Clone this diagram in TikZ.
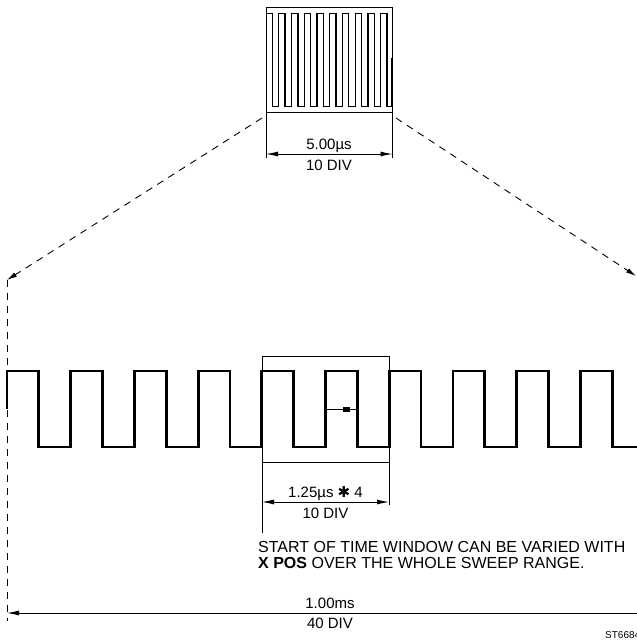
\documentclass[tikz,border=0pt]{standalone}
\usepackage{fontspec}
\setmainfont{Liberation Sans}
\newfontfamily\djv{DejaVu Sans}
\usetikzlibrary{arrows.meta}
\begin{document}
\begin{tikzpicture}[x=1pt,y=-1pt,
  lbl/.style={font=\fontsize{15}{17}\selectfont, inner sep=0pt, anchor=base},
  note/.style={font=\fontsize{16}{17}\selectfont, inner sep=0pt, anchor=base west},
  thinln/.style={line width=0.9pt},
  inwave/.style={line width=1.3pt, line join=miter},
  wave/.style={line width=2.8pt, line join=miter},
  dim/.style={line width=0.9pt, {Latex[length=12pt,width=5pt]}-{Latex[length=12pt,width=5pt]}},
  dsh/.style={line width=0.9pt, dash pattern=on 7pt off 6pt},
  dsharr/.style={dsh, -{Latex[length=10pt,width=5pt]}}
]
\useasboundingbox (0,0) rectangle (637,641);
\clip (0,0) rectangle (637,641);
% top box
\draw[thinln] (266,7.3) rectangle (392.5,112);
\draw[inwave] (266.8,58) -- (266.8,13.3) \foreach \k in {0,...,8} { -- ({272.37+12.74*\k},13.3) -- ({272.37+12.74*\k},106.7) -- ({278.74+12.74*\k},106.7) -- ({278.74+12.74*\k},13.3) } -- (387.0,13.3) -- (387.0,106.7) -- (391.7,106.7) -- (391.7,58);
\coordinate (tbl) at (266,112);
\coordinate (tbr) at (392.5,112);
\coordinate (tel) at (266,158);
\coordinate (ter) at (392.5,158);
\draw[thinln] (tbl) -- (tel);
\draw[thinln] (tbr) -- (ter);
\coordinate (tal) at (266,154);
\coordinate (tar) at (392.5,154);
\draw[dim] (tal) -- (tar);
\node[lbl] (t1) at (329,149) {5.00µs};
\node[lbl] (t2) at (329,170) {10 DIV};
% dashed projection lines
\coordinate (dl0) at (262,118);
\coordinate (dl1) at (7,280);
\coordinate (dr0) at (396,118);
\coordinate (dr1) at (636,276);
\coordinate (dlb) at (7,621);
\draw[dsharr] (dl0) -- (dl1);
\draw[dsharr] (dr0) -- (dr1);
\draw[dsh] (dl1) -- (dlb);
% main waveform
\draw[wave] (7,409) -- (7,371) \foreach \k in {0,...,9} { -- ({7+63.7*\k+31.85},371) -- ({7+63.7*\k+31.85},447) -- ({7+63.7*\k+63.7},447) -- ({7+63.7*\k+63.7},371) };
% window
\draw[thinln] (262,356) rectangle (389,462);
\coordinate (wbl) at (262,462);
\coordinate (wbr) at (389,462);
\coordinate (wel) at (262,533);
\coordinate (wer) at (389,505);
\draw[thinln] (wbl) -- (wel);
\draw[thinln] (wbr) -- (wer);
\coordinate (wal) at (262,502);
\coordinate (war) at (389,502);
\draw[dim] (wal) -- (war);
\node[lbl] (w1) at (325.5,497) {1.25µs {\djv ✱} 4};
\node[lbl] (w2) at (325.5,518) {10 DIV};
% marker
\coordinate (ml) at (325.5,409);
\coordinate (mr) at (357.4,409);
\draw[line width=0.8pt] (ml) -- (mr);
\fill (342.5,406.5) rectangle (349.5,411.5);
% note
\node[note] (n1) at (258,552) {START OF TIME WINDOW CAN BE VARIED WITH};
\node[note] (n2) at (258,568) {\textbf{X POS} OVER THE WHOLE SWEEP RANGE.};
% bottom dimension
\coordinate (bal) at (7,613);
\coordinate (bar) at (653,613);
\draw[dim] (bal) -- (bar);
\node[lbl] (b1) at (330,608) {1.00ms};
\node[lbl] (b2) at (330,628) {40 DIV};
\node[font=\fontsize{10}{12}\selectfont, inner sep=0pt, anchor=base west] (st) at (605,638) {ST6684};
\end{tikzpicture}
\end{document}
